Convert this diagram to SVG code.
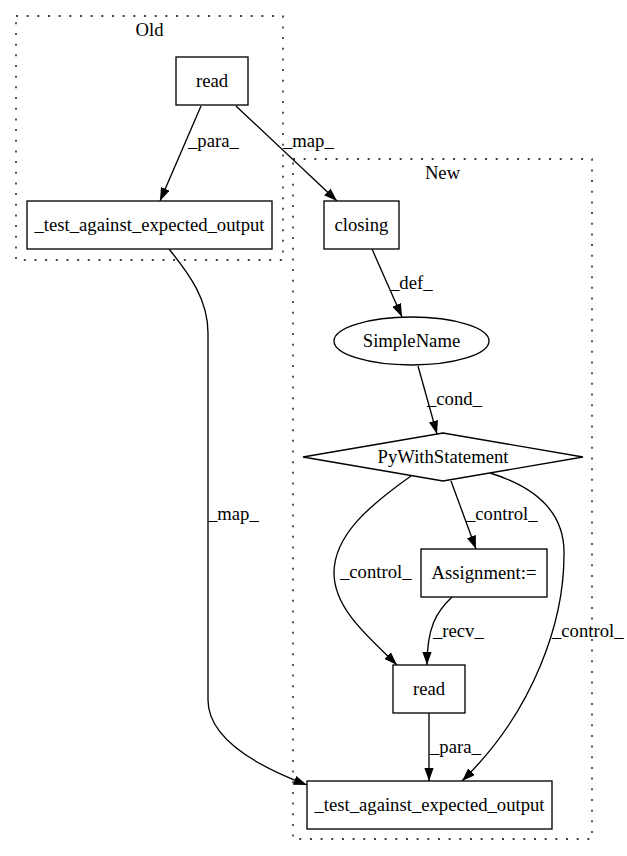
<svg xmlns="http://www.w3.org/2000/svg" width="627" height="856" viewBox="0 0 627 856">
<style>
  text { font-family: "Liberation Serif", "Times New Roman", serif; font-size: 18.67px; fill: #000; }
  .c { text-anchor: middle; }
  .cluster { fill: none; stroke: #000; stroke-width: 1.33; stroke-dasharray: 2,8.67; }
  .node { fill: #fff; stroke: #000; stroke-width: 1.33; }
  .edge { fill: none; stroke: #000; stroke-width: 1.33; marker-end: url(#arrow); }
</style>
<defs>
  <marker id="arrow" markerUnits="userSpaceOnUse" viewBox="0 0 13.3 9.4" markerWidth="13.3" markerHeight="9.4" refX="13.3" refY="4.7" orient="auto">
    <path d="M0,0 L13.3,4.7 L0,9.4 Z" fill="#000"/>
  </marker>
</defs>
<rect width="627" height="856" fill="#fff"/>

<g id="cluster_old">
  <rect class="cluster" x="16" y="16" width="267" height="244"/>
  <text class="c" x="149.5" y="36">Old</text>
</g>
<g id="cluster_new">
  <rect class="cluster" x="293" y="159" width="299" height="680"/>
  <text class="c" x="442.5" y="179">New</text>
</g>

<g id="edges">
  <path class="edge" d="M201,106 L160,201"/>
  <path class="edge" d="M236,106 L337,201"/>
  <path class="edge" d="M169,249 C190,275 208,300 208,333 L208,700 C208,740 262,768 307,785"/>
  <path class="edge" d="M372,249 L402,317"/>
  <path class="edge" d="M418,366 L437,434"/>
  <path class="edge" d="M451,481 L476,549"/>
  <path class="edge" d="M411,476 C370,505 334,535 334,573 C334,610 372,640 397,665"/>
  <path class="edge" d="M452,597 C436,612 427,628 427,665"/>
  <path class="edge" d="M490,473 C545,490 565,520 564,555 C564,620 535,710 462,781"/>
  <path class="edge" d="M429,713 L429,781"/>
  <text x="188" y="147">_para_</text>
  <text x="283" y="147">_map_</text>
  <text x="208" y="520">_map_</text>
  <text x="390" y="289">_def_</text>
  <text x="427" y="405">_cond_</text>
  <text x="466" y="520">_control_</text>
  <text x="340" y="578">_control_</text>
  <text x="433" y="637">_recv_</text>
  <text x="552" y="637">_control_</text>
  <text x="430" y="753">_para_</text>
</g>

<g id="read_old">
  <rect class="node" x="176" y="57" width="72" height="48"/>
  <text class="c" x="212" y="86.5">read</text>
</g>
<g id="test_old">
  <rect class="node" x="27" y="201" width="245" height="48"/>
  <text class="c" x="149.5" y="230.5">_test_against_expected_output</text>
</g>
<g id="closing">
  <rect class="node" x="324" y="201" width="75" height="48"/>
  <text class="c" x="361.5" y="230.5">closing</text>
</g>
<g id="simplename">
  <ellipse class="node" cx="411.5" cy="341" rx="77.5" ry="24"/>
  <text class="c" x="411.5" y="346.5">SimpleName</text>
</g>
<g id="pywith">
  <polygon class="node" points="443,433 583,457 443,481 303,457"/>
  <text class="c" x="443" y="462.5">PyWithStatement</text>
</g>
<g id="assignment">
  <rect class="node" x="421" y="549" width="126" height="48"/>
  <text class="c" x="484" y="578.5">Assignment:=</text>
</g>
<g id="read_new">
  <rect class="node" x="393" y="665" width="72" height="48"/>
  <text class="c" x="429" y="694.5">read</text>
</g>
<g id="test_new">
  <rect class="node" x="307" y="781" width="245" height="48"/>
  <text class="c" x="429.5" y="810.5">_test_against_expected_output</text>
</g>
</svg>
